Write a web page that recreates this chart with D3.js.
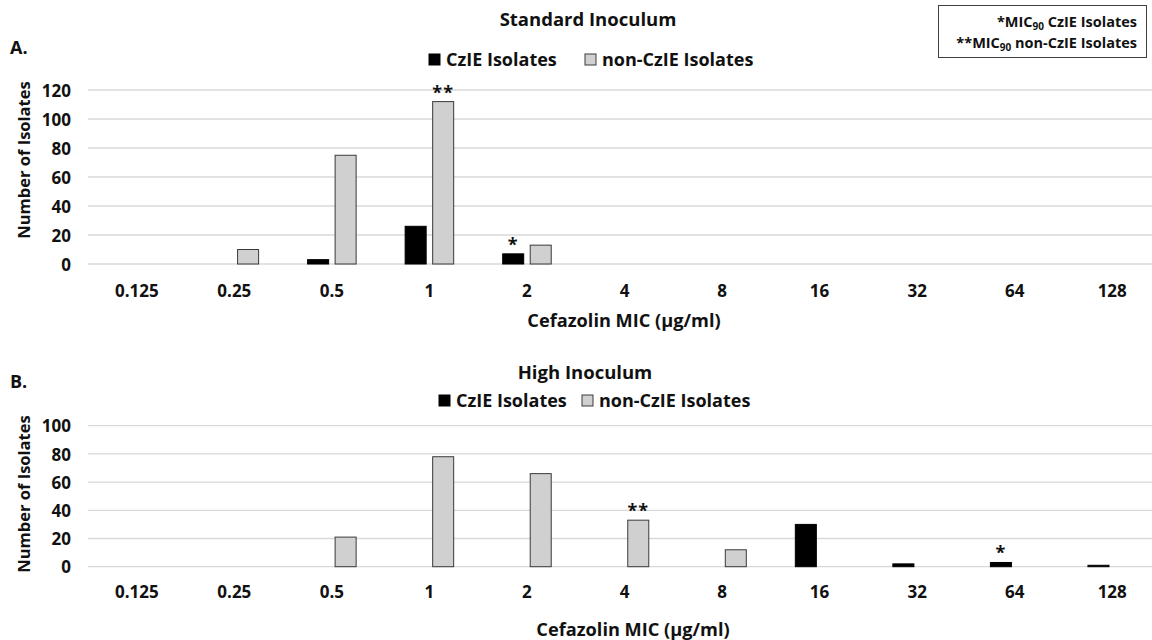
<!DOCTYPE html>
<html><head><meta charset="utf-8">
<script src="https://cdn.jsdelivr.net/npm/d3@7"></script>
<style>
html,body{margin:0;padding:0;background:#fff;}
text{font-family:"Open Sans",sans-serif;font-weight:700;fill:#111;}
</style></head>
<body><svg id="chart" width="1152" height="640"></svg>
<script>
const categories = ["0.125","0.25","0.5","1","2","4","8","16","32","64","128"];
const seriesNames = ["CzIE Isolates","non-CzIE Isolates"];
const standardCzIE = [0,0,3,26,7,0,0,0,0,0,0];
const standardNonCzIE = [0,10,75,112,13,0,0,0,0,0,0];
const highCzIE = [0,0,0,0,0,0,0,30,2,3,1];
const highNonCzIE = [0,0,21,78,66,33,12,0,0,0,0];
const standardTicks = [0,20,40,60,80,100,120];
const highTicks = [0,20,40,60,80,100];
const standardMarks = [{cat:"1", series:1, label:"**"},{cat:"2", series:0, label:"*"}];
const highMarks = [{cat:"4", series:1, label:"**"},{cat:"64", series:0, label:"*"}];

const svg = d3.select("#chart");
const colors = ["#000000","#d0d0d0"];
const strokes = ["#000000","#3a3a3a"];

const x0 = d3.scaleBand().domain(categories).range([88, 1161]).paddingInner(0).paddingOuter(0);
const x1 = d3.scaleBand().domain([0,1]).range([24, x0.bandwidth()-24]).paddingInner(0.2);

function panel(opts){
  const g = svg.append("g");
  const y = d3.scaleLinear().domain([0, d3.max(opts.ticks)]).range([opts.y0, opts.y1]);
  // gridlines
  g.append("g").selectAll("line").data(opts.ticks).join("line")
    .attr("x1", 88).attr("x2", 1152)
    .attr("y1", d=>y(d)).attr("y2", d=>y(d))
    .attr("stroke", "#d9d9d9").attr("stroke-width", 1.3);
  // y axis
  const ya = g.append("g").attr("transform", `translate(${71},0)`)
    .call(d3.axisLeft(y).tickValues(opts.ticks).tickSize(0).tickPadding(0));
  ya.select(".domain").remove();
  ya.selectAll("text").attr("font-size", 17).attr("dy", "0.36em").style("font-family","'Open Sans',sans-serif").style("font-weight",700).attr("fill","#111");
  // x axis
  const xa = g.append("g").attr("transform", `translate(0,${opts.xLabelY})`)
    .call(d3.axisBottom(x0).tickSize(0).tickPadding(0));
  xa.select(".domain").remove();
  xa.selectAll("text").attr("font-size", 17).attr("dy","0.36em").attr("y",0).style("font-family","'Open Sans',sans-serif").style("font-weight",700).attr("fill","#111");
  // bars
  const data = [];
  categories.forEach((c,i)=>{
    opts.series.forEach((s,si)=>{ if(s[i]>0) data.push({cat:c, si, v:s[i]}); });
  });
  g.append("g").selectAll("rect").data(data).join("rect")
    .attr("x", d=>x0(d.cat)+x1(d.si)+0.5)
    .attr("width", x1.bandwidth()-1)
    .attr("y", d=>y(d.v))
    .attr("height", d=>y(0)-y(d.v))
    .attr("fill", d=>colors[d.si])
    .attr("stroke", d=>strokes[d.si]).attr("stroke-width", 1);
  // asterisks
  g.append("g").selectAll("text").data(opts.marks).join("text")
    .attr("x", d=>x0(d.cat)+x1(d.series)+x1.bandwidth()/2)
    .attr("y", d=>{ const i = categories.indexOf(d.cat); return y(opts.series[d.series][i]) - 3; })
    .attr("text-anchor","middle").attr("font-size", 18)
    .attr("letter-spacing", 1)
    .text(d=>d.label);
  // title
  svg.append("text").attr("x", opts.titleX).attr("y", opts.titleY)
    .attr("text-anchor","middle").attr("font-size", 18.5).text(opts.title);
  // panel letter
  svg.append("text").attr("x", 10).attr("y", opts.letterY).attr("font-size", 18).text(opts.letter);
  // legend
  const lg = svg.append("g").attr("transform", `translate(0,${opts.legendY})`);
  opts.legendX.forEach((lx,i)=>{
    lg.append("rect").attr("x", lx).attr("y", -6).attr("width", 11).attr("height", 11)
      .attr("fill", colors[i]).attr("stroke", strokes[i]).attr("stroke-width", 1);
    lg.append("text").attr("x", lx+17).attr("y", 0).attr("dy","0.36em").attr("font-size", 18).text(seriesNames[i]);
  });
  // y title
  svg.append("text").attr("transform", `translate(30,${opts.yTitleY}) rotate(-90)`)
    .attr("text-anchor","middle").attr("font-size", 16.5).text("Number of Isolates");
  // x title
  svg.append("text").attr("x", opts.xTitleX).attr("y", opts.xTitleY)
    .attr("text-anchor","middle").attr("font-size", 18.2).text("Cefazolin MIC (µg/ml)");
}

panel({series:[standardCzIE, standardNonCzIE], ticks:standardTicks, marks:standardMarks,
  y0:264, y1:90, xLabelY:291, title:"Standard Inoculum", titleX:588, titleY:26,
  letter:"A.", letterY:54, legendY:60, legendX:[429,585], yTitleY:160,
  xTitleX:624, xTitleY:327});
panel({series:[highCzIE, highNonCzIE], ticks:highTicks, marks:highMarks,
  y0:566.7, y1:425.7, xLabelY:592, title:"High Inoculum", titleX:585, titleY:379,
  letter:"B.", letterY:388, legendY:401, legendX:[439,582], yTitleY:494,
  xTitleX:633, xTitleY:636});

// MIC90 key box
const key = svg.append("g");
key.append("rect").attr("x", 938.5).attr("y", 5.5).attr("width", 208).attr("height", 52)
  .attr("fill","#fff").attr("stroke","#404040").attr("stroke-width",1);
const keyLines = [["*MIC","90"," CzIE Isolates"],["**MIC","90"," non-CzIE Isolates"]];
keyLines.forEach((parts,i)=>{
  const t = key.append("text").attr("x", 1137).attr("y", 27 + i*21).attr("text-anchor","end").attr("font-size", 14.5);
  t.append("tspan").text(parts[0]);
  t.append("tspan").attr("dy", 3).attr("font-size", 10).text(parts[1]);
  t.append("tspan").attr("dy", -3).text(parts[2]);
});
</script></body></html>
